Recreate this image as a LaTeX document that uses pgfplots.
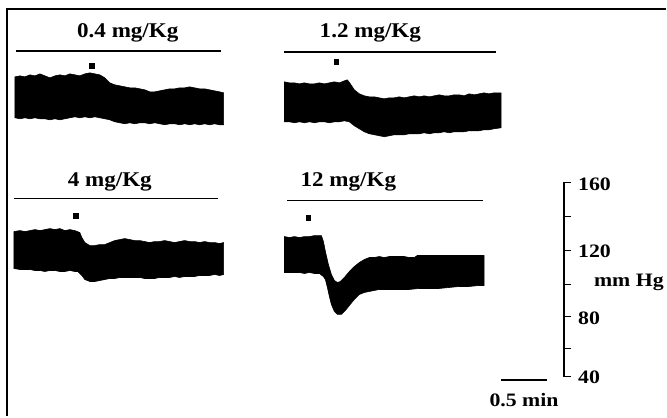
\documentclass[border=0pt]{standalone}
\usepackage{fontspec}
\setmainfont{Liberation Serif}
\usepackage{pgfplots}
\pgfplotsset{compat=1.18}
\begin{document}
\begin{tikzpicture}
\begin{axis}[width=667pt,height=417pt,scale only axis,
  xmin=0,xmax=667,ymin=0,ymax=417,y dir=reverse,hide axis,clip=false]
% frame of the picture (invisible, sets the bounding box)
\path[draw=none] (axis cs:0,0) rectangle (axis cs:667,417);
% border (top and left)
\addplot[black,line width=2pt] coordinates {(667,9.5)(6.7,9.5)(6.7,417)};
% header lines
\addplot[black,line width=1.2pt] coordinates {(16,51)(221,51)};
\addplot[black,line width=1.2pt] coordinates {(285,52)(497,52)};
\addplot[black,line width=1.2pt] coordinates {(14,199)(218,199)};
\addplot[black,line width=1.2pt] coordinates {(288,201)(484,201)};
% trace 1 : 0.4 mg/Kg
\addplot[fill=black,draw=black,line width=0.6pt] coordinates {
(15,77)(20,76)(25,77)(30,75)(35,76)(40,74)(45,76)(50,78)(55,76)(60,75)(65,76)(70,74)(75,75)(80,76)(85,74)(90,73)(95,74)(100,75)(105,78)(110,83)(115,85)(120,86)(125,87)(130,88)(135,88)(140,89)(145,90)(150,92)(155,92)(160,91)(165,90)(170,89)(175,89)(180,88)(185,88)(190,87)(195,88)(200,89)(205,89)(210,90)(215,91)(220,92)(224,93)
(224,125)(220,125)(215,124)(210,125)(205,124)(200,125)(195,124)(190,125)(185,124)(180,125)(175,124)(170,124)(165,125)(160,124)(155,123)(150,124)(145,123)(140,123)(135,124)(130,123)(125,124)(120,123)(115,122)(110,120)(105,119)(100,118)(95,117)(90,118)(85,117)(80,118)(75,117)(70,118)(65,119)(60,120)(55,119)(50,120)(45,119)(40,119)(35,118)(30,119)(25,118)(20,119)(15,118)
} -- cycle;
% trace 2 : 1.2 mg/Kg
\addplot[fill=black,draw=black,line width=0.6pt] coordinates {
(285,82)(290,83)(295,83)(300,84)(305,83)(310,84)(315,84)(320,83)(325,84)(330,83)(335,82)(340,83)(345,81)(348,80)(351,84)(355,90)(360,94)(365,96)(370,97)(375,97)(380,98)(385,99)(390,98)(395,98)(400,97)(405,98)(410,97)(415,96)(420,97)(425,96)(430,97)(435,96)(440,95)(445,96)(450,96)(455,95)(460,95)(465,96)(470,94)(475,95)(480,94)(485,93)(490,94)(495,93)(502,93)
(502,128)(495,129)(490,130)(485,130)(480,131)(475,131)(470,131)(465,132)(460,132)(455,132)(450,133)(445,132)(440,133)(435,133)(430,134)(425,133)(420,134)(415,134)(410,134)(405,135)(400,135)(395,135)(390,136)(385,137)(380,136)(375,135)(370,134)(365,132)(360,129)(355,126)(350,122)(345,121)(340,122)(335,122)(330,123)(325,122)(320,122)(315,123)(310,122)(305,123)(300,122)(295,123)(290,122)(285,122)
} -- cycle;
% trace 3 : 4 mg/Kg
\addplot[fill=black,draw=black,line width=0.6pt] coordinates {
(14,232)(20,231)(25,232)(30,231)(35,230)(40,231)(45,230)(50,229)(55,230)(60,229)(65,231)(70,230)(75,231)(80,233)(82,238)(85,243)(90,246)(95,246)(100,245)(105,245)(110,243)(115,241)(120,240)(125,239)(130,240)(135,241)(140,241)(145,242)(150,243)(155,242)(160,242)(165,241)(170,242)(175,243)(180,242)(185,241)(190,242)(195,242)(200,243)(205,242)(210,243)(215,243)(220,244)(224,243)
(224,275)(220,276)(215,275)(210,276)(205,276)(200,276)(195,277)(190,277)(185,277)(180,278)(175,277)(170,278)(165,278)(160,278)(155,279)(150,279)(145,279)(140,278)(135,278)(130,278)(125,278)(120,278)(115,279)(110,279)(105,280)(100,281)(95,282)(90,282)(85,280)(82,276)(78,272)(75,272)(70,271)(65,272)(60,272)(55,271)(50,271)(45,272)(40,271)(35,271)(30,270)(25,270)(20,270)(14,269)
} -- cycle;
% trace 4 : 12 mg/Kg
\addplot[fill=black,draw=black,line width=0.6pt] coordinates {
(285,237)(290,238)(295,237)(300,238)(305,237)(310,237)(315,236)(320,236)(322,236)(324,242)(326,252)(329,265)(332,275)(335,281)(338,283)(341,282)(345,278)(350,272)(355,267)(360,263)(365,260)(370,258)(375,258)(380,257)(385,258)(390,257)(395,257)(400,257)(405,257)(410,258)(415,258)(418,256)(425,256)(430,256)(440,256)(450,256)(460,256)(470,256)(480,256)(485,256)
(485,286)(480,286)(470,287)(460,287)(450,288)(440,289)(430,289)(420,289)(410,290)(400,290)(390,290)(380,290)(375,291)(370,292)(365,293)(360,295)(355,300)(350,306)(346,311)(342,315)(338,315)(335,312)(332,305)(330,297)(328,288)(326,280)(324,277)(320,274)(315,274)(310,273)(305,274)(300,273)(295,273)(290,273)(285,273)
} -- cycle;
% injection dots
\addplot[only marks,mark=square*,mark size=2.2pt,black] coordinates {(92,66)(337,62)(76,216)(309,218)};
% pressure scale
\addplot[black,line width=1.3pt] coordinates {(572,183)(565,183)(565,377)(572,377)};
\addplot[black,line width=1.3pt] coordinates {(565,217)(572,217)};
\addplot[black,line width=1.3pt] coordinates {(565,251)(572,251)};
\addplot[black,line width=1.3pt] coordinates {(565,285)(572,285)};
\addplot[black,line width=1.3pt] coordinates {(565,317)(572,317)};
\addplot[black,line width=1.3pt] coordinates {(565,349)(572,349)};
% time bar
\addplot[black,line width=2pt] coordinates {(502,381)(548,381)};
% texts
\node[font=\bfseries\fontsize{21}{25}\selectfont] at (axis cs:128,33) {\scalebox{1.1}[1]{0.4 mg/Kg}};
\node[font=\bfseries\fontsize{21}{25}\selectfont] at (axis cs:371,33) {\scalebox{1.1}[1]{1.2 mg/Kg}};
\node[font=\bfseries\fontsize{21}{25}\selectfont] at (axis cs:110,182) {\scalebox{1.1}[1]{4 mg/Kg}};
\node[font=\bfseries\fontsize{21}{25}\selectfont] at (axis cs:349,182) {\scalebox{1.1}[1]{12 mg/Kg}};
\node[font=\bfseries\fontsize{19}{22}\selectfont,anchor=west,inner sep=0pt] at (axis cs:579,185) {\scalebox{1.15}[1]{160}};
\node[font=\bfseries\fontsize{19}{22}\selectfont,anchor=west,inner sep=0pt] at (axis cs:579,252) {\scalebox{1.15}[1]{120}};
\node[font=\bfseries\fontsize{19}{22}\selectfont,anchor=west,inner sep=0pt] at (axis cs:579,319) {\scalebox{1.15}[1]{80}};
\node[font=\bfseries\fontsize{19}{22}\selectfont,anchor=west,inner sep=0pt] at (axis cs:579,378) {\scalebox{1.15}[1]{40}};
\node[font=\bfseries\fontsize{19}{22}\selectfont] at (axis cs:630,283) {\scalebox{1.15}[1]{mm Hg}};
\node[font=\bfseries\fontsize{19}{22}\selectfont] at (axis cs:525,401) {\scalebox{1.15}[1]{0.5 min}};
\end{axis}
\end{tikzpicture}
\end{document}
